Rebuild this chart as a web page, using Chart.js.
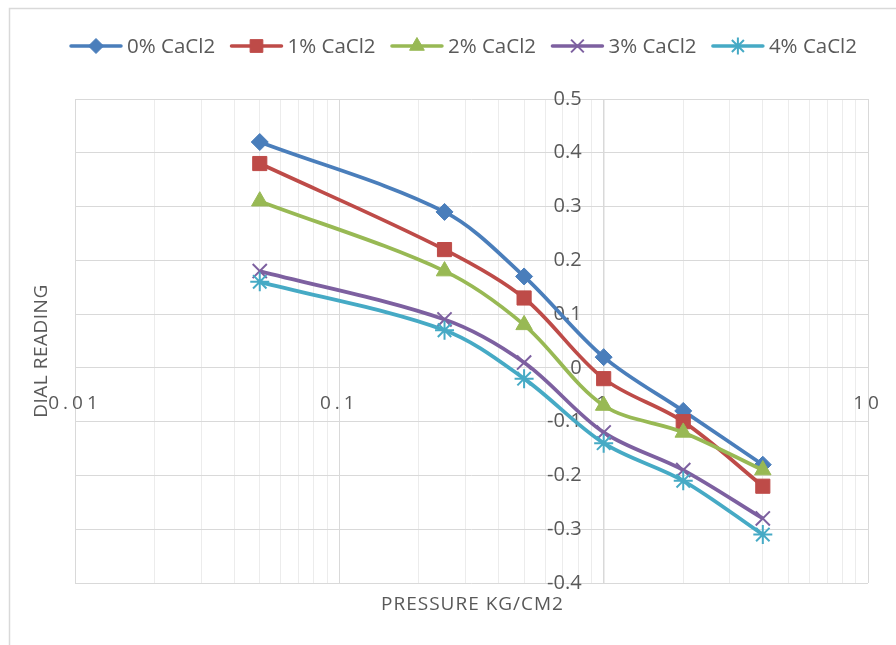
<!DOCTYPE html>
<html>
<head>
<meta charset="utf-8">
<script src="https://cdn.jsdelivr.net/npm/chart.js@4.4.1/dist/chart.umd.min.js"></script>
<style>
  html, body { margin: 0; padding: 0; background: #ffffff; }
  #wrap { width: 896px; height: 645px; position: relative; }
</style>
</head>
<body>
<div id="wrap"><canvas id="c" width="896" height="645"></canvas></div>
<script>
// ---- data ----
const pressures = [0.05, 0.25, 0.5, 1, 2, 4];
const seriesNames = ['0% CaCl2', '1% CaCl2', '2% CaCl2', '3% CaCl2', '4% CaCl2'];
const cacl2_0 = [0.42, 0.29, 0.17, 0.02, -0.08, -0.18];
const cacl2_1 = [0.38, 0.22, 0.13, -0.02, -0.10, -0.22];
const cacl2_2 = [0.31, 0.18, 0.08, -0.07, -0.12, -0.19];
const cacl2_3 = [0.18, 0.09, 0.01, -0.12, -0.19, -0.28];
const cacl2_4 = [0.16, 0.07, -0.02, -0.14, -0.21, -0.31];
const xTickLabels = [0.01, 0.1, 1, 10];
const xTitle = 'PRESSURE KG/CM2';
const yTitle = 'DIAL READING';

const seriesValues = [cacl2_0, cacl2_1, cacl2_2, cacl2_3, cacl2_4];
const colors = ['#4A7EBB', '#BE4B48', '#98B954', '#7D60A0', '#46AAC5'];
const markers = ['rectRot', 'rect', 'triangle', 'crossRot', 'star'];
const radii = [8.5, 10, 9.5, 10, 9.5];

const FONT = '"Open Sans", "Liberation Sans", sans-serif';
const TEXT = '#595959';
const Y_CROSS = 1;          // the y axis crosses the x axis at pressure = 1
const Y_LABEL_GAP = 22;     // gap between y labels and the crossing line

// log grid ticks (1..9 per decade)
function logTicks(min, max) {
  const out = [];
  for (let e = Math.round(Math.log10(min)); e <= Math.round(Math.log10(max)); e++) {
    for (let s = 1; s <= 9; s++) {
      const v = +(s * Math.pow(10, e)).toPrecision(6);
      if (v >= min - 1e-12 && v <= max + 1e-12) out.push(v);
    }
  }
  return out;
}
function isDecade(v) {
  const l = Math.log10(v);
  return Math.abs(l - Math.round(l)) < 1e-9;
}
function isCross(m) { return m === 'crossRot' || m === 'star'; }

const datasets = seriesNames.map((name, i) => ({
  label: name,
  data: pressures.map((p, j) => ({x: p, y: seriesValues[i][j]})),
  borderColor: colors[i],
  backgroundColor: colors[i],
  pointBackgroundColor: colors[i],
  pointBorderColor: colors[i],
  pointStyle: markers[i],
  pointRadius: radii[i],
  pointBorderWidth: isCross(markers[i]) ? 2 : 1,
  borderWidth: 3.75,
  tension: 0.33,
  fill: false,
  order: 4 - i
}));

const decorPlugin = {
  id: 'decor',
  afterLayout(chart) {
    const xs = chart.scales.x;
    const ys = chart.scales.y;
    if (!xs._patched) {
      const origX = xs.drawLabels.bind(xs);
      xs.drawLabels = function (ca) {
        const ctx = chart.ctx;
        ctx.save();
        ctx.letterSpacing = '4px';
        origX(ca);
        ctx.restore();
      };
      xs._patched = true;
    }
    if (!ys._patched) {
      const origY = ys._computeLabelItems.bind(ys);
      ys._computeLabelItems = function (ca) {
        const items = origY(ca);
        const px = chart.scales.x.getPixelForValue(Y_CROSS) - Y_LABEL_GAP;
        items.forEach(it => {
          it.options.textAlign = 'right';
          it.options.translation = [px, it.options.translation[1]];
        });
        return items;
      };
      ys._patched = true;
    }
  },
  beforeDraw(chart) {
    const ctx = chart.ctx;
    ctx.save();
    ctx.fillStyle = '#ffffff';
    ctx.fillRect(0, 0, chart.width, chart.height);
    ctx.strokeStyle = '#d9d9d9';
    ctx.lineWidth = 1.5;
    ctx.beginPath();
    ctx.moveTo(9.5, chart.height + 2);
    ctx.lineTo(9.5, 8.5);
    ctx.lineTo(chart.width + 2, 8.5);
    ctx.stroke();
    ctx.restore();
  },
  afterDraw(chart) {
    const ctx = chart.ctx;
    const ca = chart.chartArea;
    ctx.save();
    // axis titles
    ctx.fillStyle = TEXT;
    ctx.font = '19px ' + FONT;
    ctx.textAlign = 'center';
    ctx.textBaseline = 'middle';
    ctx.letterSpacing = '1px';
    ctx.fillText(xTitle, (ca.left + ca.right) / 2 + 1, 605);
    ctx.letterSpacing = '0.5px';
    ctx.save();
    ctx.translate(42, 351);
    ctx.rotate(-Math.PI / 2);
    ctx.fillText(yTitle, 0, 0);
    ctx.restore();
    ctx.letterSpacing = '0px';

    // legend (line + marker)
    ctx.font = '20.5px ' + FONT;
    const lineLen = 54, gapText = 4;
    const left = 69, right = 857;
    const widths = seriesNames.map(n => ctx.measureText(n).width);
    let used = 0;
    widths.forEach(w => { used += lineLen + gapText + w; });
    const gapItem = (right - left - used) / (widths.length - 1);
    let x = left;
    const y = 46;
    seriesNames.forEach((name, i) => {
      ctx.strokeStyle = colors[i];
      ctx.fillStyle = colors[i];
      ctx.lineWidth = 3.5;
      ctx.lineCap = 'round';
      ctx.beginPath();
      ctx.moveTo(x + 2, y);
      ctx.lineTo(x + lineLen - 2, y);
      ctx.stroke();
      ctx.lineCap = 'butt';
      ctx.lineWidth = isCross(markers[i]) ? 2 : 1;
      Chart.helpers.drawPoint(ctx, {
        pointStyle: markers[i],
        radius: radii[i] - 1,
        borderWidth: isCross(markers[i]) ? 2 : 1,
        rotation: 0
      }, x + lineLen / 2, y);
      ctx.fillStyle = TEXT;
      ctx.textAlign = 'left';
      ctx.textBaseline = 'middle';
      ctx.fillText(name, x + lineLen + gapText, y + 1);
      x += lineLen + gapText + widths[i] + gapItem;
    });
    ctx.restore();
  }
};

new Chart(document.getElementById('c'), {
  type: 'line',
  data: { datasets },
  options: {
    responsive: false,
    animation: false,
    devicePixelRatio: 1,
    layout: { padding: { left: 75, right: 28, top: 99, bottom: 62 } },
    plugins: {
      legend: { display: false },
      tooltip: { enabled: false }
    },
    scales: {
      x: {
        type: 'logarithmic',
        min: 0.01,
        max: 10,
        position: { y: 0 },
        afterBuildTicks: (scale) => {
          scale.ticks = logTicks(0.01, 10).map(v => ({ value: v, major: isDecade(v) }));
        },
        afterFit: (scale) => { scale.paddingLeft = 0; scale.paddingRight = 0; },
        grid: {
          drawTicks: false,
          color: (c) => (c.tick && isDecade(c.tick.value)) ? '#d9d9d9' : '#ececec',
          lineWidth: (c) => (c.tick && c.tick.value === Y_CROSS) ? 1.5 : 1
        },
        border: { display: true, color: '#d9d9d9', width: 1 },
        ticks: {
          autoSkip: false,
          maxRotation: 0,
          padding: 24,
          color: TEXT,
          font: { family: FONT, size: 19 },
          callback: (v) => xTickLabels.some(t => Math.abs(t - v) < 1e-9) ? String(v) : ''
        }
      },
      y: {
        type: 'linear',
        min: -0.4,
        max: 0.5,
        position: { x: Y_CROSS },
        afterFit: (scale) => { scale.paddingTop = 0; scale.paddingBottom = 0; },
        grid: { drawTicks: false, color: '#d9d9d9', lineWidth: 1 },
        border: { display: false },
        ticks: {
          stepSize: 0.1,
          color: TEXT,
          font: { family: FONT, size: 20 },
          callback: (v) => String(Number(v.toFixed(1)))
        }
      }
    }
  },
  plugins: [decorPlugin]
});
</script>
</body>
</html>
